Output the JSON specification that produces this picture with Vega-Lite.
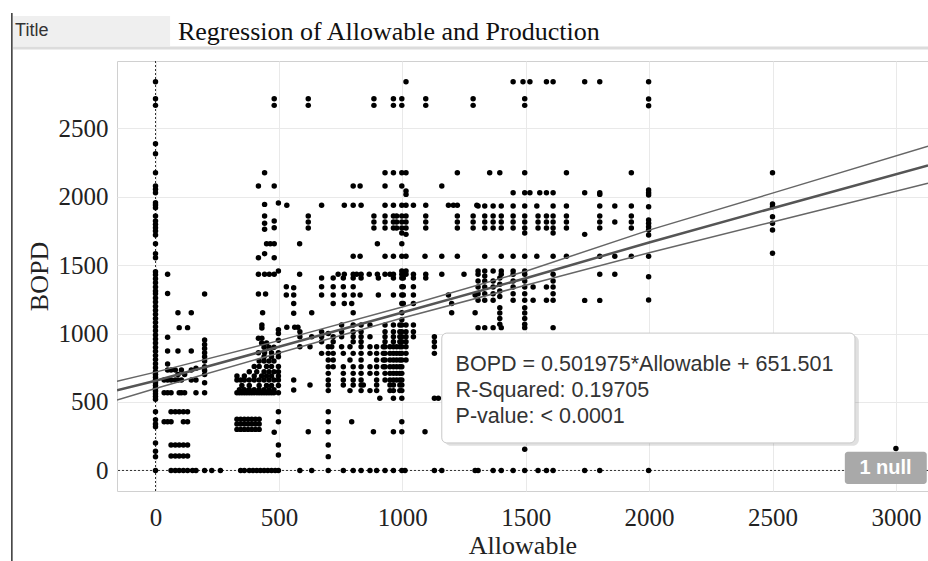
{
 "$schema": "https://vega.github.io/schema/vega-lite/v6.json",
 "width": 811,
 "height": 430,
 "autosize": {"type": "none"},
 "padding": {"left": 117, "top": 61, "right": 0, "bottom": 70},
 "background": "white",
 "config": {"view": {"stroke": "#d0d0d0", "strokeWidth": 1}},
 "datasets": {
  "pts": [
   {"Allowable":0,"BOPD":2838},{"Allowable":0,"BOPD":2714},{"Allowable":0,"BOPD":2666},{"Allowable":0,"BOPD":2386},{"Allowable":0,"BOPD":2313},{"Allowable":0,"BOPD":2174},{"Allowable":0,"BOPD":2077},{"Allowable":0,"BOPD":2053},{"Allowable":0,"BOPD":2028},{"Allowable":0,"BOPD":1955},{"Allowable":0,"BOPD":1938},{"Allowable":0,"BOPD":1918},{"Allowable":0,"BOPD":1858},{"Allowable":0,"BOPD":1821},{"Allowable":0,"BOPD":1797},{"Allowable":0,"BOPD":1772},{"Allowable":0,"BOPD":1748},{"Allowable":0,"BOPD":1719},{"Allowable":0,"BOPD":1656},{"Allowable":0,"BOPD":1583},{"Allowable":0,"BOPD":1553},{"Allowable":0,"BOPD":1451},{"Allowable":0,"BOPD":1430},{"Allowable":0,"BOPD":1400},{"Allowable":0,"BOPD":1370},{"Allowable":0,"BOPD":1340},{"Allowable":0,"BOPD":1310},{"Allowable":0,"BOPD":1290},{"Allowable":0,"BOPD":1260},{"Allowable":0,"BOPD":1230},{"Allowable":0,"BOPD":1200},{"Allowable":0,"BOPD":1170},{"Allowable":0,"BOPD":1140},{"Allowable":0,"BOPD":1110},{"Allowable":0,"BOPD":1080},{"Allowable":0,"BOPD":1050},{"Allowable":0,"BOPD":1020},{"Allowable":0,"BOPD":990},{"Allowable":0,"BOPD":960},{"Allowable":0,"BOPD":930},{"Allowable":0,"BOPD":900},{"Allowable":0,"BOPD":870},{"Allowable":0,"BOPD":840},{"Allowable":0,"BOPD":810},{"Allowable":0,"BOPD":780},{"Allowable":0,"BOPD":750},{"Allowable":0,"BOPD":720},{"Allowable":0,"BOPD":700},{"Allowable":0,"BOPD":680},{"Allowable":0,"BOPD":660},{"Allowable":0,"BOPD":640},{"Allowable":0,"BOPD":620},{"Allowable":0,"BOPD":600},{"Allowable":0,"BOPD":580},{"Allowable":0,"BOPD":560},{"Allowable":0,"BOPD":540},{"Allowable":0,"BOPD":520},{"Allowable":0,"BOPD":429},{"Allowable":0,"BOPD":370},{"Allowable":0,"BOPD":340},{"Allowable":0,"BOPD":320},{"Allowable":0,"BOPD":200},{"Allowable":0,"BOPD":140},{"Allowable":0,"BOPD":100},{"Allowable":0,"BOPD":0},
   {"Allowable":35,"BOPD":660},{"Allowable":35,"BOPD":568},{"Allowable":35,"BOPD":356},
   {"Allowable":49,"BOPD":1432},{"Allowable":49,"BOPD":1293},{"Allowable":49,"BOPD":972},{"Allowable":49,"BOPD":872},{"Allowable":49,"BOPD":777},{"Allowable":49,"BOPD":733},{"Allowable":49,"BOPD":660},{"Allowable":49,"BOPD":568},{"Allowable":49,"BOPD":356},
   {"Allowable":63,"BOPD":733},{"Allowable":63,"BOPD":660},{"Allowable":63,"BOPD":568},{"Allowable":63,"BOPD":429},{"Allowable":63,"BOPD":356},{"Allowable":63,"BOPD":186},{"Allowable":63,"BOPD":106},{"Allowable":63,"BOPD":0},
   {"Allowable":80,"BOPD":733},{"Allowable":80,"BOPD":660},{"Allowable":80,"BOPD":429},{"Allowable":80,"BOPD":186},{"Allowable":80,"BOPD":106},{"Allowable":80,"BOPD":0},
   {"Allowable":91,"BOPD":1152},{"Allowable":91,"BOPD":872},{"Allowable":91,"BOPD":700},{"Allowable":91,"BOPD":660},
   {"Allowable":96,"BOPD":1043},{"Allowable":96,"BOPD":568},{"Allowable":96,"BOPD":429},{"Allowable":96,"BOPD":186},{"Allowable":96,"BOPD":106},{"Allowable":96,"BOPD":0},
   {"Allowable":105,"BOPD":733},{"Allowable":105,"BOPD":660},{"Allowable":105,"BOPD":568},
   {"Allowable":113,"BOPD":429},{"Allowable":113,"BOPD":356},{"Allowable":113,"BOPD":186},{"Allowable":113,"BOPD":106},{"Allowable":113,"BOPD":0},
   {"Allowable":118,"BOPD":700},{"Allowable":118,"BOPD":568},
   {"Allowable":130,"BOPD":1043},{"Allowable":130,"BOPD":429},{"Allowable":130,"BOPD":356},{"Allowable":130,"BOPD":186},{"Allowable":130,"BOPD":106},{"Allowable":130,"BOPD":0},
   {"Allowable":145,"BOPD":1152},{"Allowable":145,"BOPD":872},{"Allowable":145,"BOPD":733},{"Allowable":145,"BOPD":660},
   {"Allowable":150,"BOPD":0},
   {"Allowable":164,"BOPD":746},{"Allowable":164,"BOPD":660},{"Allowable":164,"BOPD":568},{"Allowable":164,"BOPD":0},
   {"Allowable":199,"BOPD":1288},{"Allowable":199,"BOPD":952},{"Allowable":199,"BOPD":920},{"Allowable":199,"BOPD":890},{"Allowable":199,"BOPD":860},{"Allowable":199,"BOPD":830},{"Allowable":199,"BOPD":800},{"Allowable":199,"BOPD":758},{"Allowable":199,"BOPD":730},{"Allowable":199,"BOPD":700},{"Allowable":199,"BOPD":640},{"Allowable":199,"BOPD":568},{"Allowable":199,"BOPD":0},
   {"Allowable":228,"BOPD":0},{"Allowable":263,"BOPD":0},
   {"Allowable":330,"BOPD":568},{"Allowable":330,"BOPD":660},{"Allowable":330,"BOPD":690},{"Allowable":330,"BOPD":374},{"Allowable":330,"BOPD":339},{"Allowable":330,"BOPD":300},
   {"Allowable":340,"BOPD":568},{"Allowable":340,"BOPD":590},
   {"Allowable":345,"BOPD":660},{"Allowable":345,"BOPD":374},{"Allowable":345,"BOPD":339},{"Allowable":345,"BOPD":300},{"Allowable":345,"BOPD":0},
   {"Allowable":350,"BOPD":568},{"Allowable":350,"BOPD":620},
   {"Allowable":360,"BOPD":568},{"Allowable":360,"BOPD":590},{"Allowable":360,"BOPD":660},{"Allowable":360,"BOPD":690},{"Allowable":360,"BOPD":374},{"Allowable":360,"BOPD":339},{"Allowable":360,"BOPD":300},{"Allowable":360,"BOPD":0},
   {"Allowable":370,"BOPD":568},
   {"Allowable":375,"BOPD":374},{"Allowable":375,"BOPD":339},{"Allowable":375,"BOPD":300},
   {"Allowable":380,"BOPD":568},{"Allowable":380,"BOPD":590},{"Allowable":380,"BOPD":620},{"Allowable":380,"BOPD":660},{"Allowable":380,"BOPD":720},{"Allowable":380,"BOPD":0},
   {"Allowable":390,"BOPD":568},{"Allowable":390,"BOPD":374},{"Allowable":390,"BOPD":339},{"Allowable":390,"BOPD":300},
   {"Allowable":395,"BOPD":0},
   {"Allowable":400,"BOPD":568},{"Allowable":400,"BOPD":590},{"Allowable":400,"BOPD":660},{"Allowable":400,"BOPD":690},{"Allowable":400,"BOPD":760},
   {"Allowable":405,"BOPD":374},{"Allowable":405,"BOPD":339},{"Allowable":405,"BOPD":300},
   {"Allowable":410,"BOPD":568},{"Allowable":410,"BOPD":720},{"Allowable":410,"BOPD":0},
   {"Allowable":417,"BOPD":2077},{"Allowable":417,"BOPD":1553},{"Allowable":417,"BOPD":1432},{"Allowable":417,"BOPD":1288},{"Allowable":417,"BOPD":965},{"Allowable":417,"BOPD":860},
   {"Allowable":420,"BOPD":568},{"Allowable":420,"BOPD":590},{"Allowable":420,"BOPD":620},{"Allowable":420,"BOPD":660},{"Allowable":420,"BOPD":760},{"Allowable":420,"BOPD":800},{"Allowable":420,"BOPD":374},{"Allowable":420,"BOPD":339},{"Allowable":420,"BOPD":300},
   {"Allowable":425,"BOPD":0},
   {"Allowable":430,"BOPD":568},{"Allowable":430,"BOPD":690},{"Allowable":430,"BOPD":930},
   {"Allowable":431,"BOPD":1062},{"Allowable":431,"BOPD":1040},{"Allowable":431,"BOPD":965},
   {"Allowable":434,"BOPD":1152},
   {"Allowable":440,"BOPD":568},{"Allowable":440,"BOPD":590},{"Allowable":440,"BOPD":660},{"Allowable":440,"BOPD":720},{"Allowable":440,"BOPD":800},{"Allowable":440,"BOPD":830},{"Allowable":440,"BOPD":900},{"Allowable":440,"BOPD":0},
   {"Allowable":442,"BOPD":2174},{"Allowable":442,"BOPD":1943},{"Allowable":442,"BOPD":1858},{"Allowable":442,"BOPD":1805},{"Allowable":442,"BOPD":1761},{"Allowable":442,"BOPD":1583},{"Allowable":442,"BOPD":1432},{"Allowable":442,"BOPD":860},
   {"Allowable":446,"BOPD":1288},
   {"Allowable":450,"BOPD":568},{"Allowable":450,"BOPD":620},{"Allowable":450,"BOPD":690},{"Allowable":450,"BOPD":760},{"Allowable":450,"BOPD":930},{"Allowable":450,"BOPD":1656},
   {"Allowable":455,"BOPD":0},
   {"Allowable":460,"BOPD":568},{"Allowable":460,"BOPD":590},{"Allowable":460,"BOPD":660},{"Allowable":460,"BOPD":720},{"Allowable":460,"BOPD":800},{"Allowable":460,"BOPD":900},
   {"Allowable":461,"BOPD":1432},{"Allowable":465,"BOPD":1656},
   {"Allowable":470,"BOPD":568},{"Allowable":470,"BOPD":620},{"Allowable":470,"BOPD":690},{"Allowable":470,"BOPD":760},{"Allowable":470,"BOPD":830},{"Allowable":470,"BOPD":860},{"Allowable":470,"BOPD":0},
   {"Allowable":480,"BOPD":568},{"Allowable":480,"BOPD":590},{"Allowable":480,"BOPD":660},{"Allowable":480,"BOPD":720},{"Allowable":480,"BOPD":800},{"Allowable":480,"BOPD":900},
   {"Allowable":481,"BOPD":2714},{"Allowable":481,"BOPD":2666},{"Allowable":481,"BOPD":2077},{"Allowable":481,"BOPD":1821},{"Allowable":481,"BOPD":1772},{"Allowable":481,"BOPD":1656},{"Allowable":481,"BOPD":1553},{"Allowable":481,"BOPD":1432},{"Allowable":481,"BOPD":279},
   {"Allowable":485,"BOPD":0},
   {"Allowable":498,"BOPD":1953},{"Allowable":498,"BOPD":1456},{"Allowable":498,"BOPD":1028},{"Allowable":498,"BOPD":1000},{"Allowable":498,"BOPD":950},{"Allowable":498,"BOPD":860},{"Allowable":498,"BOPD":830},{"Allowable":498,"BOPD":760},{"Allowable":498,"BOPD":720},{"Allowable":498,"BOPD":690},{"Allowable":498,"BOPD":660},{"Allowable":498,"BOPD":620},{"Allowable":498,"BOPD":568},{"Allowable":498,"BOPD":429},{"Allowable":498,"BOPD":356},{"Allowable":498,"BOPD":186},{"Allowable":498,"BOPD":113},{"Allowable":498,"BOPD":0},
   {"Allowable":530,"BOPD":1342},{"Allowable":530,"BOPD":1281},
   {"Allowable":532,"BOPD":1936},{"Allowable":532,"BOPD":1045},
   {"Allowable":560,"BOPD":1334},{"Allowable":560,"BOPD":1281},{"Allowable":560,"BOPD":1220},{"Allowable":560,"BOPD":1148},{"Allowable":560,"BOPD":660},{"Allowable":560,"BOPD":587},
   {"Allowable":564,"BOPD":1045},{"Allowable":577,"BOPD":1045},
   {"Allowable":584,"BOPD":1656},{"Allowable":584,"BOPD":1432},
   {"Allowable":585,"BOPD":1013},{"Allowable":585,"BOPD":977},{"Allowable":585,"BOPD":904},{"Allowable":585,"BOPD":0},
   {"Allowable":619,"BOPD":2714},{"Allowable":619,"BOPD":2666},{"Allowable":619,"BOPD":1858},{"Allowable":619,"BOPD":1814},{"Allowable":619,"BOPD":1770},{"Allowable":619,"BOPD":283},
   {"Allowable":626,"BOPD":904},{"Allowable":626,"BOPD":624},
   {"Allowable":633,"BOPD":1152},{"Allowable":633,"BOPD":977},{"Allowable":633,"BOPD":0},
   {"Allowable":673,"BOPD":1936},{"Allowable":673,"BOPD":1405},{"Allowable":673,"BOPD":1342},{"Allowable":673,"BOPD":1281},{"Allowable":673,"BOPD":1013},{"Allowable":673,"BOPD":977},{"Allowable":673,"BOPD":940},{"Allowable":673,"BOPD":855},
   {"Allowable":700,"BOPD":1000},{"Allowable":700,"BOPD":904},{"Allowable":700,"BOPD":855},{"Allowable":700,"BOPD":807},{"Allowable":700,"BOPD":758},{"Allowable":700,"BOPD":709},{"Allowable":700,"BOPD":661},{"Allowable":700,"BOPD":624},{"Allowable":700,"BOPD":583},{"Allowable":700,"BOPD":429},{"Allowable":700,"BOPD":356},{"Allowable":700,"BOPD":283},{"Allowable":700,"BOPD":186},{"Allowable":700,"BOPD":101},{"Allowable":700,"BOPD":0},
   {"Allowable":714,"BOPD":904},
   {"Allowable":720,"BOPD":1405},{"Allowable":720,"BOPD":1342},{"Allowable":720,"BOPD":1281},{"Allowable":720,"BOPD":1220},{"Allowable":720,"BOPD":977},{"Allowable":720,"BOPD":940},{"Allowable":720,"BOPD":855},{"Allowable":720,"BOPD":807},{"Allowable":720,"BOPD":758},
   {"Allowable":740,"BOPD":1432},
   {"Allowable":754,"BOPD":1062},{"Allowable":754,"BOPD":1013},{"Allowable":754,"BOPD":977},{"Allowable":754,"BOPD":904},
   {"Allowable":761,"BOPD":1405},{"Allowable":761,"BOPD":1342},{"Allowable":761,"BOPD":855},{"Allowable":761,"BOPD":758},{"Allowable":761,"BOPD":709},{"Allowable":761,"BOPD":661},{"Allowable":761,"BOPD":624},{"Allowable":761,"BOPD":0},
   {"Allowable":765,"BOPD":1936},{"Allowable":765,"BOPD":1432},{"Allowable":765,"BOPD":1281},{"Allowable":765,"BOPD":1220},
   {"Allowable":788,"BOPD":904},{"Allowable":788,"BOPD":807},{"Allowable":788,"BOPD":583},
   {"Allowable":795,"BOPD":356},{"Allowable":795,"BOPD":1220},
   {"Allowable":801,"BOPD":2077},{"Allowable":801,"BOPD":1936},{"Allowable":801,"BOPD":1565},{"Allowable":801,"BOPD":1432},{"Allowable":801,"BOPD":1405},{"Allowable":801,"BOPD":1342},{"Allowable":801,"BOPD":1281},{"Allowable":801,"BOPD":1152},{"Allowable":801,"BOPD":1062},{"Allowable":801,"BOPD":1013},{"Allowable":801,"BOPD":977},{"Allowable":801,"BOPD":940},{"Allowable":801,"BOPD":855},{"Allowable":801,"BOPD":758},{"Allowable":801,"BOPD":709},{"Allowable":801,"BOPD":661},{"Allowable":801,"BOPD":624},{"Allowable":801,"BOPD":0},
   {"Allowable":815,"BOPD":1432},
   {"Allowable":829,"BOPD":2077},{"Allowable":829,"BOPD":1565},{"Allowable":829,"BOPD":1281},
   {"Allowable":833,"BOPD":1936},{"Allowable":833,"BOPD":1432},{"Allowable":833,"BOPD":1405},{"Allowable":833,"BOPD":1062},{"Allowable":833,"BOPD":1013},{"Allowable":833,"BOPD":977},{"Allowable":833,"BOPD":940},{"Allowable":833,"BOPD":904},{"Allowable":833,"BOPD":855},{"Allowable":833,"BOPD":807},{"Allowable":833,"BOPD":758},{"Allowable":833,"BOPD":709},{"Allowable":833,"BOPD":661},{"Allowable":833,"BOPD":624},{"Allowable":833,"BOPD":583},{"Allowable":833,"BOPD":0},
   {"Allowable":842,"BOPD":624},{"Allowable":866,"BOPD":1432},
   {"Allowable":869,"BOPD":1062},{"Allowable":869,"BOPD":977},{"Allowable":869,"BOPD":904},{"Allowable":869,"BOPD":855},{"Allowable":869,"BOPD":758},{"Allowable":869,"BOPD":709},{"Allowable":869,"BOPD":583},{"Allowable":869,"BOPD":0},
   {"Allowable":883,"BOPD":283},
   {"Allowable":885,"BOPD":2714},{"Allowable":885,"BOPD":2666},{"Allowable":885,"BOPD":1858},{"Allowable":885,"BOPD":1814},{"Allowable":885,"BOPD":1770},
   {"Allowable":896,"BOPD":904},{"Allowable":896,"BOPD":855},{"Allowable":896,"BOPD":807},{"Allowable":896,"BOPD":758},{"Allowable":896,"BOPD":709},{"Allowable":896,"BOPD":661},{"Allowable":896,"BOPD":624},{"Allowable":896,"BOPD":583},{"Allowable":896,"BOPD":0},
   {"Allowable":899,"BOPD":1656},{"Allowable":899,"BOPD":1432},
   {"Allowable":903,"BOPD":1405},{"Allowable":903,"BOPD":1281},
   {"Allowable":909,"BOPD":527},
   {"Allowable":923,"BOPD":904},{"Allowable":923,"BOPD":855},{"Allowable":923,"BOPD":807},{"Allowable":923,"BOPD":758},
   {"Allowable":930,"BOPD":2174},{"Allowable":930,"BOPD":2077},{"Allowable":930,"BOPD":1936},{"Allowable":930,"BOPD":1858},{"Allowable":930,"BOPD":1814},{"Allowable":930,"BOPD":1770},{"Allowable":930,"BOPD":1565},{"Allowable":930,"BOPD":1432},{"Allowable":930,"BOPD":1062},{"Allowable":930,"BOPD":1013},{"Allowable":930,"BOPD":977},{"Allowable":930,"BOPD":940},{"Allowable":930,"BOPD":904},{"Allowable":930,"BOPD":855},{"Allowable":930,"BOPD":807},{"Allowable":930,"BOPD":758},{"Allowable":930,"BOPD":709},{"Allowable":930,"BOPD":661},{"Allowable":930,"BOPD":0},
   {"Allowable":950,"BOPD":1432},{"Allowable":950,"BOPD":904},{"Allowable":950,"BOPD":855},{"Allowable":950,"BOPD":807},{"Allowable":950,"BOPD":758},{"Allowable":950,"BOPD":709},{"Allowable":950,"BOPD":661},{"Allowable":950,"BOPD":624},{"Allowable":950,"BOPD":583},
   {"Allowable":964,"BOPD":2714},{"Allowable":964,"BOPD":2666},{"Allowable":964,"BOPD":2174},{"Allowable":964,"BOPD":1936},{"Allowable":964,"BOPD":1858},{"Allowable":964,"BOPD":1814},{"Allowable":964,"BOPD":1770},{"Allowable":964,"BOPD":1565},{"Allowable":964,"BOPD":1432},{"Allowable":964,"BOPD":1405},{"Allowable":964,"BOPD":1281},{"Allowable":964,"BOPD":1062},{"Allowable":964,"BOPD":1013},{"Allowable":964,"BOPD":977},{"Allowable":964,"BOPD":940},{"Allowable":964,"BOPD":904},{"Allowable":964,"BOPD":855},{"Allowable":964,"BOPD":807},{"Allowable":964,"BOPD":758},{"Allowable":964,"BOPD":709},{"Allowable":964,"BOPD":661},{"Allowable":964,"BOPD":624},{"Allowable":964,"BOPD":583},{"Allowable":964,"BOPD":527},{"Allowable":964,"BOPD":283},{"Allowable":964,"BOPD":0},
   {"Allowable":977,"BOPD":1858},{"Allowable":977,"BOPD":1814},{"Allowable":977,"BOPD":1770},{"Allowable":977,"BOPD":904},{"Allowable":977,"BOPD":855},{"Allowable":977,"BOPD":807},{"Allowable":977,"BOPD":758},{"Allowable":977,"BOPD":709},{"Allowable":977,"BOPD":661},
   {"Allowable":990,"BOPD":1062},{"Allowable":990,"BOPD":1013},{"Allowable":990,"BOPD":977},{"Allowable":990,"BOPD":940},{"Allowable":990,"BOPD":904},{"Allowable":990,"BOPD":855},{"Allowable":990,"BOPD":807},{"Allowable":990,"BOPD":758},{"Allowable":990,"BOPD":709},{"Allowable":990,"BOPD":661},{"Allowable":990,"BOPD":624},{"Allowable":990,"BOPD":583},
   {"Allowable":998,"BOPD":2714},{"Allowable":998,"BOPD":2666},{"Allowable":998,"BOPD":2174},{"Allowable":998,"BOPD":2077},{"Allowable":998,"BOPD":1936},{"Allowable":998,"BOPD":1858},{"Allowable":998,"BOPD":1814},{"Allowable":998,"BOPD":1770},{"Allowable":998,"BOPD":1734},{"Allowable":998,"BOPD":1656},{"Allowable":998,"BOPD":1565},{"Allowable":998,"BOPD":1456},{"Allowable":998,"BOPD":1432},{"Allowable":998,"BOPD":1405},{"Allowable":998,"BOPD":1342},{"Allowable":998,"BOPD":1281},{"Allowable":998,"BOPD":1220},{"Allowable":998,"BOPD":1152},{"Allowable":998,"BOPD":1100},{"Allowable":998,"BOPD":1062},{"Allowable":998,"BOPD":1013},{"Allowable":998,"BOPD":977},{"Allowable":998,"BOPD":940},{"Allowable":998,"BOPD":904},{"Allowable":998,"BOPD":855},{"Allowable":998,"BOPD":807},{"Allowable":998,"BOPD":758},{"Allowable":998,"BOPD":709},{"Allowable":998,"BOPD":661},{"Allowable":998,"BOPD":624},{"Allowable":998,"BOPD":583},{"Allowable":998,"BOPD":527},{"Allowable":998,"BOPD":356},{"Allowable":998,"BOPD":283},{"Allowable":998,"BOPD":0},
   {"Allowable":1004,"BOPD":1405},{"Allowable":1004,"BOPD":1342},{"Allowable":1004,"BOPD":1281},{"Allowable":1004,"BOPD":1220},
   {"Allowable":1011,"BOPD":0},
   {"Allowable":1015,"BOPD":2838},{"Allowable":1015,"BOPD":2174},{"Allowable":1015,"BOPD":2040},{"Allowable":1015,"BOPD":2016},{"Allowable":1015,"BOPD":1936},{"Allowable":1015,"BOPD":1858},{"Allowable":1015,"BOPD":1814},{"Allowable":1015,"BOPD":1770},{"Allowable":1015,"BOPD":1724},{"Allowable":1015,"BOPD":1565},{"Allowable":1015,"BOPD":1456},{"Allowable":1015,"BOPD":1432},{"Allowable":1015,"BOPD":1062},{"Allowable":1015,"BOPD":1013},{"Allowable":1015,"BOPD":977},{"Allowable":1015,"BOPD":940},{"Allowable":1015,"BOPD":904},{"Allowable":1015,"BOPD":855},{"Allowable":1015,"BOPD":807},
   {"Allowable":1045,"BOPD":1936},{"Allowable":1045,"BOPD":1432},{"Allowable":1045,"BOPD":1405},{"Allowable":1045,"BOPD":1342},{"Allowable":1045,"BOPD":1281},{"Allowable":1045,"BOPD":1220},{"Allowable":1045,"BOPD":1062},{"Allowable":1045,"BOPD":1013},{"Allowable":1045,"BOPD":977},
   {"Allowable":1092,"BOPD":283},{"Allowable":1092,"BOPD":1565},
   {"Allowable":1095,"BOPD":2714},{"Allowable":1095,"BOPD":2666},{"Allowable":1095,"BOPD":1936},{"Allowable":1095,"BOPD":1858},{"Allowable":1095,"BOPD":1814},{"Allowable":1095,"BOPD":1770},{"Allowable":1095,"BOPD":1432},{"Allowable":1095,"BOPD":1405},
   {"Allowable":1130,"BOPD":977},{"Allowable":1130,"BOPD":940},{"Allowable":1130,"BOPD":904},{"Allowable":1130,"BOPD":855},{"Allowable":1130,"BOPD":527},{"Allowable":1130,"BOPD":0},
   {"Allowable":1146,"BOPD":527},
   {"Allowable":1160,"BOPD":2077},{"Allowable":1160,"BOPD":1565},{"Allowable":1160,"BOPD":1432},{"Allowable":1160,"BOPD":0},
   {"Allowable":1187,"BOPD":1936},{"Allowable":1187,"BOPD":1281},
   {"Allowable":1200,"BOPD":1220},{"Allowable":1200,"BOPD":1152},
   {"Allowable":1207,"BOPD":1936},
   {"Allowable":1223,"BOPD":2174},{"Allowable":1223,"BOPD":1936},{"Allowable":1223,"BOPD":1858},{"Allowable":1223,"BOPD":1814},{"Allowable":1223,"BOPD":1770},{"Allowable":1223,"BOPD":1565},
   {"Allowable":1250,"BOPD":1432},
   {"Allowable":1287,"BOPD":2714},{"Allowable":1287,"BOPD":2666},{"Allowable":1287,"BOPD":1858},{"Allowable":1287,"BOPD":1814},{"Allowable":1287,"BOPD":1770},
   {"Allowable":1295,"BOPD":1281},{"Allowable":1295,"BOPD":1152},{"Allowable":1295,"BOPD":0},
   {"Allowable":1302,"BOPD":1936},
   {"Allowable":1307,"BOPD":1931},{"Allowable":1307,"BOPD":1456},{"Allowable":1307,"BOPD":1432},{"Allowable":1307,"BOPD":1383},{"Allowable":1307,"BOPD":1340},{"Allowable":1307,"BOPD":1290},{"Allowable":1307,"BOPD":1243},{"Allowable":1307,"BOPD":1043},{"Allowable":1307,"BOPD":0},
   {"Allowable":1334,"BOPD":1931},{"Allowable":1334,"BOPD":1858},{"Allowable":1334,"BOPD":1814},{"Allowable":1334,"BOPD":1770},{"Allowable":1334,"BOPD":1565},{"Allowable":1334,"BOPD":1456},{"Allowable":1334,"BOPD":1420},{"Allowable":1334,"BOPD":1383},{"Allowable":1334,"BOPD":1340},{"Allowable":1334,"BOPD":1290},{"Allowable":1334,"BOPD":1243},{"Allowable":1334,"BOPD":1043},
   {"Allowable":1354,"BOPD":2174},
   {"Allowable":1368,"BOPD":1931},{"Allowable":1368,"BOPD":1858},{"Allowable":1368,"BOPD":1814},{"Allowable":1368,"BOPD":1770},{"Allowable":1368,"BOPD":1456},{"Allowable":1368,"BOPD":1383},{"Allowable":1368,"BOPD":1340},{"Allowable":1368,"BOPD":1290},{"Allowable":1368,"BOPD":1243},{"Allowable":1368,"BOPD":1043},{"Allowable":1368,"BOPD":0},
   {"Allowable":1395,"BOPD":2174},{"Allowable":1395,"BOPD":1405},{"Allowable":1395,"BOPD":1360},{"Allowable":1395,"BOPD":1310},{"Allowable":1395,"BOPD":1270},{"Allowable":1395,"BOPD":1188},{"Allowable":1395,"BOPD":1150},{"Allowable":1395,"BOPD":1110},{"Allowable":1395,"BOPD":1067},
   {"Allowable":1401,"BOPD":1931},{"Allowable":1401,"BOPD":1858},{"Allowable":1401,"BOPD":1814},{"Allowable":1401,"BOPD":1770},{"Allowable":1401,"BOPD":1565},{"Allowable":1401,"BOPD":1456},{"Allowable":1401,"BOPD":1432},{"Allowable":1401,"BOPD":1043},{"Allowable":1401,"BOPD":0},
   {"Allowable":1449,"BOPD":2838},{"Allowable":1449,"BOPD":2028},{"Allowable":1449,"BOPD":1931},{"Allowable":1449,"BOPD":1858},{"Allowable":1449,"BOPD":1814},{"Allowable":1449,"BOPD":1770},{"Allowable":1449,"BOPD":1565},{"Allowable":1449,"BOPD":1456},{"Allowable":1449,"BOPD":1432},{"Allowable":1449,"BOPD":1383},{"Allowable":1449,"BOPD":1340},{"Allowable":1449,"BOPD":1290},{"Allowable":1449,"BOPD":1243},{"Allowable":1449,"BOPD":0},
   {"Allowable":1489,"BOPD":2838},
   {"Allowable":1496,"BOPD":2714},{"Allowable":1496,"BOPD":2666},{"Allowable":1496,"BOPD":2174},{"Allowable":1496,"BOPD":2028},{"Allowable":1496,"BOPD":1931},{"Allowable":1496,"BOPD":1858},{"Allowable":1496,"BOPD":1814},{"Allowable":1496,"BOPD":1770},{"Allowable":1496,"BOPD":1734},{"Allowable":1496,"BOPD":1565},{"Allowable":1496,"BOPD":1456},{"Allowable":1496,"BOPD":1432},{"Allowable":1496,"BOPD":1383},{"Allowable":1496,"BOPD":1340},{"Allowable":1496,"BOPD":1290},{"Allowable":1496,"BOPD":1243},{"Allowable":1496,"BOPD":1188},{"Allowable":1496,"BOPD":1150},{"Allowable":1496,"BOPD":1110},{"Allowable":1496,"BOPD":1067},{"Allowable":1496,"BOPD":1043},{"Allowable":1496,"BOPD":155},{"Allowable":1496,"BOPD":0},
   {"Allowable":1517,"BOPD":2838},{"Allowable":1517,"BOPD":2028},
   {"Allowable":1530,"BOPD":1340},{"Allowable":1530,"BOPD":1243},
   {"Allowable":1545,"BOPD":1931},{"Allowable":1545,"BOPD":1565},
   {"Allowable":1550,"BOPD":1858},{"Allowable":1550,"BOPD":1814},{"Allowable":1550,"BOPD":1770},{"Allowable":1550,"BOPD":0},
   {"Allowable":1557,"BOPD":2028},
   {"Allowable":1584,"BOPD":2838},{"Allowable":1584,"BOPD":2028},{"Allowable":1584,"BOPD":1858},{"Allowable":1584,"BOPD":1814},{"Allowable":1584,"BOPD":1770},{"Allowable":1584,"BOPD":1340},{"Allowable":1584,"BOPD":1243},{"Allowable":1584,"BOPD":0},
   {"Allowable":1611,"BOPD":2838},{"Allowable":1611,"BOPD":2028},{"Allowable":1611,"BOPD":1931},{"Allowable":1611,"BOPD":1858},{"Allowable":1611,"BOPD":1814},{"Allowable":1611,"BOPD":1770},{"Allowable":1611,"BOPD":1734},{"Allowable":1611,"BOPD":1565},{"Allowable":1611,"BOPD":1432},{"Allowable":1611,"BOPD":1383},{"Allowable":1611,"BOPD":1340},{"Allowable":1611,"BOPD":1290},{"Allowable":1611,"BOPD":1243},{"Allowable":1611,"BOPD":1043},{"Allowable":1611,"BOPD":0},
   {"Allowable":1665,"BOPD":2174},{"Allowable":1665,"BOPD":1931},{"Allowable":1665,"BOPD":1858},{"Allowable":1665,"BOPD":1814},{"Allowable":1665,"BOPD":1770},{"Allowable":1665,"BOPD":1565},
   {"Allowable":1739,"BOPD":2838},{"Allowable":1739,"BOPD":2028},{"Allowable":1739,"BOPD":1724},{"Allowable":1739,"BOPD":1242},{"Allowable":1739,"BOPD":0},
   {"Allowable":1800,"BOPD":2838},{"Allowable":1800,"BOPD":2028},{"Allowable":1800,"BOPD":2016},{"Allowable":1800,"BOPD":1931},{"Allowable":1800,"BOPD":1858},{"Allowable":1800,"BOPD":1814},{"Allowable":1800,"BOPD":1770},{"Allowable":1800,"BOPD":1565},{"Allowable":1800,"BOPD":1432},{"Allowable":1800,"BOPD":1242},{"Allowable":1800,"BOPD":0},
   {"Allowable":1861,"BOPD":1931},{"Allowable":1861,"BOPD":1814},{"Allowable":1861,"BOPD":1565},{"Allowable":1861,"BOPD":1432},
   {"Allowable":1928,"BOPD":2174},{"Allowable":1928,"BOPD":1931},{"Allowable":1928,"BOPD":1858},{"Allowable":1928,"BOPD":1814},{"Allowable":1928,"BOPD":1770},{"Allowable":1928,"BOPD":1565},
   {"Allowable":1998,"BOPD":2838},{"Allowable":1998,"BOPD":2712},{"Allowable":1998,"BOPD":2663},{"Allowable":1998,"BOPD":2048},{"Allowable":1998,"BOPD":2028},{"Allowable":1998,"BOPD":2011},{"Allowable":1998,"BOPD":1926},{"Allowable":1998,"BOPD":1829},{"Allowable":1998,"BOPD":1805},{"Allowable":1998,"BOPD":1780},{"Allowable":1998,"BOPD":1756},{"Allowable":1998,"BOPD":1719},{"Allowable":1998,"BOPD":1565},{"Allowable":1998,"BOPD":1415},{"Allowable":1998,"BOPD":1245},{"Allowable":1998,"BOPD":0},
   {"Allowable":2500,"BOPD":2174},{"Allowable":2500,"BOPD":1945},{"Allowable":2500,"BOPD":1926},{"Allowable":2500,"BOPD":1853},{"Allowable":2500,"BOPD":1805},{"Allowable":2500,"BOPD":1756},{"Allowable":2500,"BOPD":1586},
   {"Allowable":3000,"BOPD":160}
  ],
  "fit": [
   {"Allowable":-156,"Fit":585,"Upper":652,"Lower":515},
   {"Allowable":0,"Fit":655,"Upper":718,"Lower":598},
   {"Allowable":500,"Fit":903,"Upper":948,"Lower":858},
   {"Allowable":1000,"Fit":1153,"Upper":1193,"Lower":1113},
   {"Allowable":1500,"Fit":1404,"Upper":1455,"Lower":1353},
   {"Allowable":2000,"Fit":1665,"Upper":1755,"Lower":1590},
   {"Allowable":2500,"Fit":1915,"Upper":2025,"Lower":1815},
   {"Allowable":3130,"Fit":2228,"Upper":2368,"Lower":2098}
  ],
  "one": [{}]
 },
 "layer": [
  {
   "data": {"name": "one"},
   "mark": {"type": "rule", "color": "#333333", "strokeWidth": 1, "strokeDash": [2, 2]},
   "encoding": {"x": {"datum": 0, "type": "quantitative"}}
  },
  {
   "data": {"name": "one"},
   "mark": {"type": "rule", "color": "#333333", "strokeWidth": 1, "strokeDash": [2, 2]},
   "encoding": {"y": {"datum": 0, "type": "quantitative"}}
  },
  {
   "data": {"name": "pts"},
   "mark": {"type": "circle", "color": "#000000", "opacity": 1, "size": 30},
   "encoding": {
    "x": {"field": "Allowable", "type": "quantitative",
     "scale": {"domain": [-156, 3130], "nice": false, "zero": false},
     "axis": {"title": "Allowable", "values": [0, 500, 1000, 1500, 2000, 2500, 3000], "format": "d", "grid": true, "gridColor": "#e9e9e9", "ticks": false, "domain": false, "labelFont": "Liberation Serif", "labelFontSize": 25, "labelColor": "#222222", "labelPadding": 14, "labelOverlap": false, "labelFlush": false, "titleFont": "Liberation Serif", "titleFontSize": 26, "titleFontWeight": "normal", "titleColor": "#222222", "titlePadding": 2}},
    "y": {"field": "BOPD", "type": "quantitative",
     "scale": {"domain": [-150, 2990], "nice": false, "zero": false},
     "axis": {"title": "BOPD", "values": [0, 500, 1000, 1500, 2000, 2500], "format": "d", "grid": true, "gridColor": "#e9e9e9", "ticks": false, "domain": false, "labelFont": "Liberation Serif", "labelFontSize": 25, "labelColor": "#222222", "labelPadding": 9, "labelOverlap": false, "labelFlush": false, "titleFont": "Liberation Serif", "titleFontSize": 26, "titleFontWeight": "normal", "titleColor": "#222222", "titlePadding": 6}}
   }
  },
  {
   "data": {"name": "fit"},
   "mark": {"type": "line", "color": "#666666", "strokeWidth": 1.5, "clip": true},
   "encoding": {"x": {"field": "Allowable", "type": "quantitative"}, "y": {"field": "Upper", "type": "quantitative"}}
  },
  {
   "data": {"name": "fit"},
   "mark": {"type": "line", "color": "#666666", "strokeWidth": 1.5, "clip": true},
   "encoding": {"x": {"field": "Allowable", "type": "quantitative"}, "y": {"field": "Lower", "type": "quantitative"}}
  },
  {
   "data": {"name": "fit"},
   "mark": {"type": "line", "color": "#555555", "strokeWidth": 2.5, "clip": true},
   "encoding": {"x": {"field": "Allowable", "type": "quantitative"}, "y": {"field": "Fit", "type": "quantitative"}}
  },
  {
   "data": {"name": "one"},
   "mark": {"type": "rect", "fill": "#000000", "opacity": 0.12, "cornerRadius": 6},
   "encoding": {"x": {"datum": 1172, "type": "quantitative"}, "x2": {"datum": 2850}, "y": {"datum": 985, "type": "quantitative"}, "y2": {"datum": 180}}
  },
  {
   "data": {"name": "one"},
   "mark": {"type": "rect", "fill": "#ffffff", "stroke": "#c8c8c8", "strokeWidth": 1, "cornerRadius": 5},
   "encoding": {"x": {"datum": 1160, "type": "quantitative"}, "x2": {"datum": 2834}, "y": {"datum": 1003, "type": "quantitative"}, "y2": {"datum": 201}}
  },
  {
   "data": {"name": "one"},
   "mark": {"type": "text", "text": ["BOPD = 0.501975*Allowable + 651.501", "R-Squared: 0.19705", "P-value: < 0.0001"], "align": "left", "baseline": "alphabetic", "font": "Liberation Sans", "fontSize": 21.5, "lineHeight": 26, "color": "#333333"},
   "encoding": {"x": {"datum": 1216, "type": "quantitative"}, "y": {"datum": 728, "type": "quantitative"}}
  },
  {
   "data": {"name": "one"},
   "mark": {"type": "rect", "fill": "#a9a9a9", "cornerRadius": 3},
   "encoding": {"x": {"datum": 2793, "type": "quantitative"}, "x2": {"datum": 3125}, "y": {"datum": 137, "type": "quantitative"}, "y2": {"datum": -98}}
  },
  {
   "data": {"name": "one"},
   "mark": {"type": "text", "text": "1 null", "align": "center", "baseline": "middle", "font": "Liberation Sans", "fontSize": 20, "fontWeight": "bold", "color": "#ffffff"},
   "encoding": {"x": {"datum": 2958, "type": "quantitative"}, "y": {"datum": 18, "type": "quantitative"}}
  },
  {
   "data": {"name": "one"},
   "mark": {"type": "rect", "fill": "#efefef"},
   "encoding": {"x": {"datum": -577, "type": "quantitative"}, "x2": {"datum": 59}, "y": {"datum": 3319, "type": "quantitative"}, "y2": {"datum": 3100}}
  },
  {
   "data": {"name": "one"},
   "mark": {"type": "rule", "color": "#dcdcdc", "strokeWidth": 3},
   "encoding": {"x": {"datum": -577, "type": "quantitative"}, "x2": {"datum": 3130}, "y": {"datum": 3085, "type": "quantitative"}}
  },
  {
   "data": {"name": "one"},
   "mark": {"type": "rule", "color": "#333333", "strokeWidth": 1.5},
   "encoding": {"x": {"datum": -582, "type": "quantitative"}, "y": {"datum": 3340, "type": "quantitative"}, "y2": {"datum": -661}}
  },
  {
   "data": {"name": "one"},
   "mark": {"type": "text", "text": "Title", "align": "left", "baseline": "middle", "font": "Liberation Sans", "fontSize": 18, "color": "#333333"},
   "encoding": {"x": {"datum": -569, "type": "quantitative"}, "y": {"datum": 3209, "type": "quantitative"}}
  },
  {
   "data": {"name": "one"},
   "mark": {"type": "text", "text": "Regression of Allowable and Production", "align": "left", "baseline": "alphabetic", "font": "Liberation Serif", "fontSize": 26, "color": "#111111"},
   "encoding": {"x": {"datum": 91, "type": "quantitative"}, "y": {"datum": 3142, "type": "quantitative"}}
  }
 ]
}
